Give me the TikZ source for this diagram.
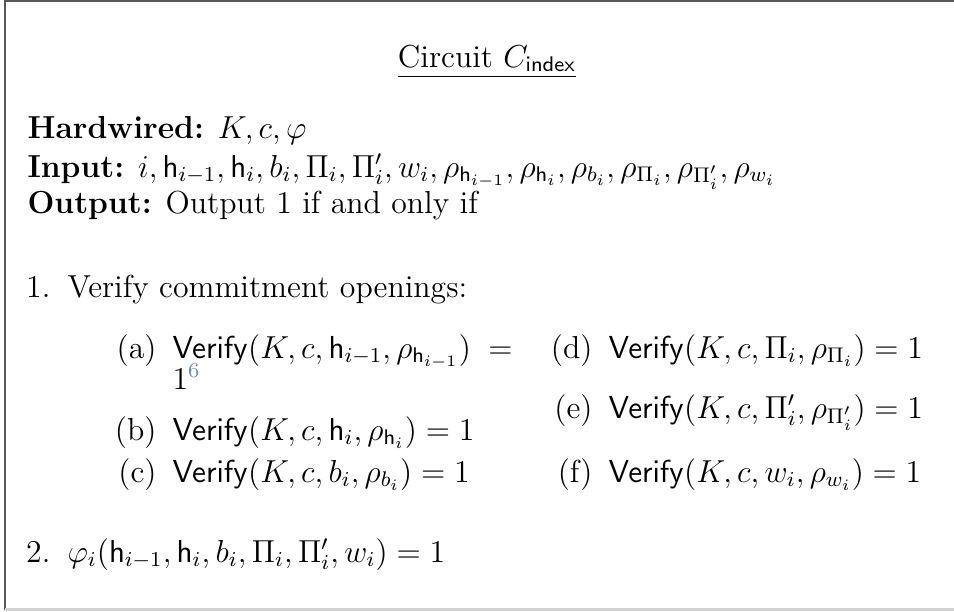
\documentclass[tikz,border=0pt]{standalone}
\usepackage{amsmath,amssymb}
\usepackage{xcolor}
\definecolor{fnblue}{rgb}{0.45,0.54,0.74}
\begin{document}
\begin{tikzpicture}[x=0.3774pt,y=-0.3774pt,
  txt/.style={inner sep=0pt,anchor=base west,font=\fontsize{12}{14.5}\selectfont},
  lab/.style={inner sep=0pt,anchor=base east,font=\fontsize{12}{14.5}\selectfont}]
\useasboundingbox (0,0) rectangle (954,611);
\draw[line width=1.2pt,black!65] (5,0.8) -- (954,0.8);
\draw[line width=0.8pt,black!65] (5,0) -- (5,609.5);
\draw[line width=0.8pt,black!18] (5,609.5) -- (954,609.5);
\node[txt,anchor=base] (title) at (487,67) {\underline{Circuit $C_{\mathsf{index}}$}};
\node[txt] (hw) at (27,138) {\textbf{Hardwired:} $K, c, \varphi$};
\node[txt] (in) at (27,177) {\textbf{Input:} $i, \mathsf{h}_{i-1}, \mathsf{h}_i, b_i, \Pi_i, \Pi'_i, w_i, \rho_{\mathsf{h}_{i-1}}, \rho_{\mathsf{h}_i}, \rho_{b_i}, \rho_{\Pi_i}, \rho_{\Pi'_i}, \rho_{w_i}$};
\node[txt] (out) at (27,213) {\textbf{Output:} Output 1 if and only if};
\node[lab] (l1) at (51,297) {1.};
\node[txt] (t1) at (67,297) {Verify commitment openings:};
\node[lab] (la) at (157,358) {(a)};
\node[txt] (ta) at (172,358) {$\mathsf{Verify}(K, c, \mathsf{h}_{i-1}, \rho_{\mathsf{h}_{i-1}}) \;=$};
\node[txt] (ta2) at (172,389) {$1$\textsuperscript{\color{fnblue}6}};
\node[lab] (lb) at (157,440) {(b)};
\node[txt] (tb) at (172,440) {$\mathsf{Verify}(K, c, \mathsf{h}_{i}, \rho_{\mathsf{h}_{i}}) = 1$};
\node[lab] (lc) at (157,482) {(c)};
\node[txt] (tc) at (172,482) {$\mathsf{Verify}(K, c, b_{i}, \rho_{b_{i}}) = 1$};
\node[lab] (ld) at (593,358) {(d)};
\node[txt] (td) at (608,358) {$\mathsf{Verify}(K, c, \Pi_{i}, \rho_{\Pi_{i}}) = 1$};
\node[lab] (le) at (593,418) {(e)};
\node[txt] (te) at (608,418) {$\mathsf{Verify}(K, c, \Pi'_{i}, \rho_{\Pi'_{i}}) = 1$};
\node[lab] (lf) at (593,482) {(f)};
\node[txt] (tf) at (608,482) {$\mathsf{Verify}(K, c, w_{i}, \rho_{w_{i}}) = 1$};
\node[lab] (l2) at (51,562) {2.};
\node[txt] (t2) at (67,562) {$\varphi_i(\mathsf{h}_{i-1}, \mathsf{h}_i, b_i, \Pi_i, \Pi'_i, w_i) = 1$};
\end{tikzpicture}
\end{document}
